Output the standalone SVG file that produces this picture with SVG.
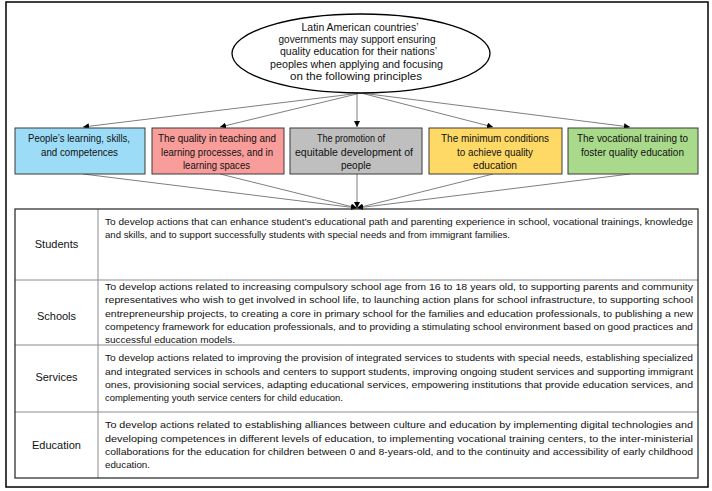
<svg xmlns="http://www.w3.org/2000/svg" width="712" height="491" viewBox="0 0 712 491">
<style>
text{font-family:"Liberation Sans",Arial,sans-serif;fill:#111}
.e{font-size:11.5px;text-anchor:middle}
.b{font-size:11px;text-anchor:middle}
.t{font-size:9.8px}
.l{font-size:11px;text-anchor:middle}
.box{stroke:#3a3a3a;stroke-width:1}
.cn{stroke:#7f7f7f;stroke-width:1;fill:none;marker-end:url(#ah)}
.grid{stroke:#8c8c8c;stroke-width:1}
</style>
<defs>
<marker id="ah" viewBox="0 0 10 10" refX="10" refY="5" markerWidth="6" markerHeight="6" markerUnits="userSpaceOnUse" orient="auto">
<path d="M0,0 L10,5 L0,10 Z" fill="#000"/>
</marker>
</defs>
<rect x="0" y="0" width="712" height="491" fill="#fff"/>
<rect x="6" y="2" width="702" height="485" fill="none" stroke="#000" stroke-width="1.5"/>

<g id="connectors">
<line class="cn" x1="361" y1="93" x2="83" y2="127"/>
<line class="cn" x1="361" y1="93" x2="220" y2="127"/>
<line class="cn" x1="357" y1="93" x2="357" y2="127"/>
<line class="cn" x1="361" y1="93" x2="493" y2="127"/>
<line class="cn" x1="361" y1="93" x2="630" y2="127"/>
<line class="cn" x1="83" y1="174" x2="357" y2="208"/>
<line class="cn" x1="220" y1="174" x2="357" y2="208"/>
<line class="cn" x1="357" y1="174" x2="357" y2="208"/>
<line class="cn" x1="493" y1="174" x2="357" y2="208"/>
<line class="cn" x1="630" y1="174" x2="357" y2="208"/>
</g>

<g id="root">
<ellipse cx="361" cy="53.5" rx="129" ry="39.5" fill="#fff" stroke="#000" stroke-width="1.3"/>
<text class="e" x="360" y="31" textLength="117" lengthAdjust="spacingAndGlyphs">Latin American countries’</text>
<text class="e" x="357" y="43.2" textLength="157" lengthAdjust="spacingAndGlyphs">governments may support ensuring</text>
<text class="e" x="358.5" y="55.4" textLength="157" lengthAdjust="spacingAndGlyphs">quality education for their nations’</text>
<text class="e" x="356.5" y="67.6" textLength="173" lengthAdjust="spacingAndGlyphs">peoples when applying and focusing</text>
<text class="e" x="356" y="79.8" textLength="132" lengthAdjust="spacingAndGlyphs">on the following principles</text>
</g>

<g id="box1">
<rect class="box" x="15" y="128" width="130" height="46" fill="#9ddcf7"/>
<text class="b" x="79" y="141.5" textLength="102" lengthAdjust="spacingAndGlyphs">People’s learning, skills,</text>
<text class="b" x="79.5" y="155.5" textLength="77" lengthAdjust="spacingAndGlyphs">and competences</text>
</g>
<g id="box2">
<rect class="box" x="152" y="128" width="132" height="46" fill="#f89d9a"/>
<text class="b" x="217" y="141.5" textLength="118" lengthAdjust="spacingAndGlyphs">The quality in teaching and</text>
<text class="b" x="217" y="155.5" textLength="112" lengthAdjust="spacingAndGlyphs">learning processes, and in</text>
<text class="b" x="216.5" y="168.5" textLength="67" lengthAdjust="spacingAndGlyphs">learning spaces</text>
</g>
<g id="box3">
<rect class="box" x="290" y="128" width="132" height="46" fill="#bfbfbf"/>
<text class="b" x="351" y="141.5" textLength="68" lengthAdjust="spacingAndGlyphs">The promotion of</text>
<text class="b" x="354" y="155.5" textLength="118" lengthAdjust="spacingAndGlyphs">equitable development of</text>
<text class="b" x="356" y="168.5" textLength="30" lengthAdjust="spacingAndGlyphs">people</text>
</g>
<g id="box4">
<rect class="box" x="429" y="128" width="133" height="46" fill="#ffd966"/>
<text class="b" x="495" y="141.5" textLength="108" lengthAdjust="spacingAndGlyphs">The minimum conditions</text>
<text class="b" x="495" y="155.5" textLength="76" lengthAdjust="spacingAndGlyphs">to achieve quality</text>
<text class="b" x="495" y="168.5" textLength="44" lengthAdjust="spacingAndGlyphs">education</text>
</g>
<g id="box5">
<rect class="box" x="568" y="128" width="130" height="46" fill="#a9d98b"/>
<text class="b" x="632.5" y="141.5" textLength="111" lengthAdjust="spacingAndGlyphs">The vocational training to</text>
<text class="b" x="632.5" y="155.5" textLength="103" lengthAdjust="spacingAndGlyphs">foster quality education</text>
</g>

<g id="table">
<line class="grid" x1="98" y1="209" x2="98" y2="478"/>
<line class="grid" x1="15" y1="280" x2="698" y2="280"/>
<line class="grid" x1="15" y1="345" x2="698" y2="345"/>
<line class="grid" x1="15" y1="412" x2="698" y2="412"/>
<rect x="15" y="209" width="683" height="269" fill="none" stroke="#222" stroke-width="1.2"/>
</g>

<g id="row-students">
<text class="l" x="56.5" y="248">Students</text>
<text class="t" x="105" y="225" textLength="588" lengthAdjust="spacingAndGlyphs">To develop actions that can enhance student’s educational path and parenting experience in school, vocational trainings, knowledge</text>
<text class="t" x="105" y="238" textLength="405" lengthAdjust="spacingAndGlyphs">and skills, and to support successfully students with special needs and from immigrant families.</text>
</g>

<g id="row-schools">
<text class="l" x="56.5" y="320">Schools</text>
<text class="t" x="105" y="289.5" textLength="588" lengthAdjust="spacingAndGlyphs">To develop actions related to increasing compulsory school age from 16 to 18 years old, to supporting parents and community</text>
<text class="t" x="105" y="303" textLength="588" lengthAdjust="spacingAndGlyphs">representatives who wish to get involved in school life, to launching action plans for school infrastructure, to supporting school</text>
<text class="t" x="105" y="316.5" textLength="588" lengthAdjust="spacingAndGlyphs">entrepreneurship projects, to creating a core in primary school for the families and education professionals, to publishing a new</text>
<text class="t" x="105" y="330" textLength="588" lengthAdjust="spacingAndGlyphs">competency framework for education professionals, and to providing a stimulating school environment based on good practices and</text>
<text class="t" x="105" y="343" textLength="130" lengthAdjust="spacingAndGlyphs">successful education models.</text>
</g>

<g id="row-services">
<text class="l" x="56.5" y="381">Services</text>
<text class="t" x="105" y="361" textLength="588" lengthAdjust="spacingAndGlyphs">To develop actions related to improving the provision of integrated services to students with special needs, establishing specialized</text>
<text class="t" x="105" y="374.5" textLength="588" lengthAdjust="spacingAndGlyphs">and integrated services in schools and centers to support students, improving ongoing student services and supporting immigrant</text>
<text class="t" x="105" y="388" textLength="588" lengthAdjust="spacingAndGlyphs">ones, provisioning social services, adapting educational services, empowering institutions that provide education services, and</text>
<text class="t" x="105" y="401" textLength="238" lengthAdjust="spacingAndGlyphs">complementing youth service centers for child education.</text>
</g>

<g id="row-education">
<text class="l" x="56.5" y="448.5">Education</text>
<text class="t" x="105" y="428" textLength="588" lengthAdjust="spacingAndGlyphs">To develop actions related to establishing alliances between culture and education by implementing digital technologies and</text>
<text class="t" x="105" y="441.5" textLength="588" lengthAdjust="spacingAndGlyphs">developing competences in different levels of education, to implementing vocational training centers, to the inter-ministerial</text>
<text class="t" x="105" y="455" textLength="588" lengthAdjust="spacingAndGlyphs">collaborations for the education for children between 0 and 8-years-old, and to the continuity and accessibility of early childhood</text>
<text class="t" x="105" y="468" textLength="45" lengthAdjust="spacingAndGlyphs">education.</text>
</g>
</svg>
